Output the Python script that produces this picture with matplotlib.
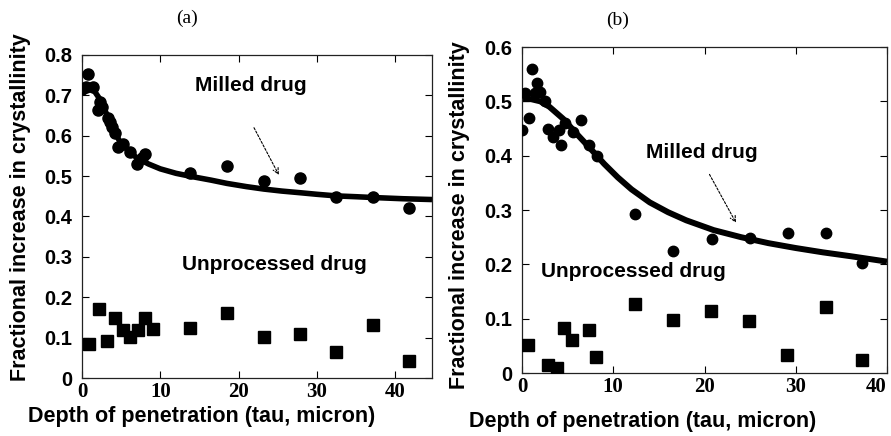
import matplotlib
matplotlib.use("Agg")
import matplotlib.pyplot as plt

# ---- Panel (a) data ----
a_milled_tau = [0.0, 0.8, 0.5, 1.4, 2.1, 2.3, 2.5, 3.3, 3.6, 3.8, 4.2, 4.6, 5.3, 6.1, 7.0, 7.6, 8.0,
                13.8, 18.5, 23.2, 27.8, 32.5, 37.2, 41.8]
a_milled_val = [0.717, 0.754, 0.72, 0.72, 0.663, 0.684, 0.672, 0.645, 0.634, 0.622, 0.606, 0.573, 0.58,
                0.56, 0.531, 0.545, 0.556, 0.507, 0.525, 0.488, 0.495, 0.448, 0.448, 0.42]
a_unproc_tau = [0.9, 2.2, 3.2, 4.2, 5.3, 6.1, 7.1, 8.0, 9.1, 13.8, 18.5, 23.2, 27.8, 32.5, 37.2, 41.8]
a_unproc_val = [0.083, 0.171, 0.092, 0.148, 0.119, 0.102, 0.119, 0.148, 0.121, 0.124, 0.16, 0.102,
                0.11, 0.065, 0.131, 0.042]
a_fit_tau = [0, 1.4, 2.3, 3.0, 3.6, 4.3, 4.9, 6.0, 7.0, 8.5, 10.0, 12.0, 14.0, 16.5, 18.5, 21, 23.2,
             25.5, 27.8, 30, 32.5, 35, 37.2, 41, 44.7]
a_fit_val = [0.718, 0.716, 0.69, 0.66, 0.635, 0.605, 0.583, 0.562, 0.545, 0.53, 0.518, 0.507, 0.499,
             0.49, 0.482, 0.474, 0.468, 0.463, 0.459, 0.455, 0.451, 0.449, 0.447, 0.444, 0.442]

# ---- Panel (b) data ----
b_milled_tau = [0.0, 0.3, 0.8, 1.06, 1.4, 1.6, 2.0, 2.5, 2.9, 3.4, 4.0, 4.3, 4.7, 5.6, 6.5, 7.3, 8.2,
                12.4, 16.6, 20.8, 25.0, 29.1, 33.3, 37.3]
b_milled_val = [0.448, 0.516, 0.47, 0.559, 0.515, 0.533, 0.518, 0.5, 0.449, 0.435, 0.448, 0.42, 0.461,
                0.443, 0.466, 0.42, 0.4, 0.293, 0.225, 0.246, 0.248, 0.257, 0.257, 0.203]
b_unproc_tau = [0.7, 2.9, 3.8, 4.6, 5.5, 7.3, 8.1, 12.4, 16.5, 20.7, 24.9, 29.0, 33.3, 37.3]
b_unproc_val = [0.052, 0.015, 0.01, 0.083, 0.061, 0.079, 0.03, 0.127, 0.098, 0.115, 0.096, 0.033,
                0.121, 0.024]
b_fit_tau = [0, 1, 2, 3, 4.5, 6, 7.5, 9, 10.5, 12, 14, 16, 18, 21, 24, 27, 30, 33, 36, 40]
b_fit_val = [0.504, 0.504, 0.5, 0.49, 0.468, 0.44, 0.413, 0.385, 0.36, 0.338, 0.314, 0.296, 0.281,
             0.263, 0.25, 0.239, 0.23, 0.222, 0.215, 0.205]

a_yticks = [0, 0.1, 0.2, 0.3, 0.4, 0.5, 0.6, 0.7, 0.8]
a_yticklabels = ["0", "0.1", "0.2", "0.3", "0.4", "0.5", "0.6", "0.7", "0.8"]
b_yticks = [0, 0.1, 0.2, 0.3, 0.4, 0.5, 0.6]
b_yticklabels = ["0", "0.1", "0.2", "0.3", "0.4", "0.5", "0.6"]
xticks = [0, 10, 20, 30, 40]
xticklabels = ["0", "10", "20", "30", "40"]

ylabel = "Fractional increase in crystallinity"
xlabel = "Depth of penetration (tau, micron)"

W, H = 891, 436
fig = plt.figure(figsize=(W / 100, H / 100), dpi=100)
fig.patch.set_facecolor("white")

sans = "Liberation Sans"
serif = "Liberation Serif"
LBL = 15.5
ANN = 15


def frac_box(l, r, t, b):
    return [l / W, (H - b) / H, (r - l) / W, (b - t) / H]


def style(ax, xlim, ylim, yticks, yticklabels):
    ax.set_xlim(*xlim)
    ax.set_ylim(*ylim)
    ax.set_xticks(xticks)
    ax.set_xticklabels(xticklabels, fontfamily=serif, fontweight="bold", fontsize=15)
    ax.set_yticks(yticks)
    ax.set_yticklabels(yticklabels, fontfamily=sans, fontweight="bold", fontsize=14.5)
    ax.tick_params(direction="in", top=True, right=True, length=5, width=0.8)
    ax.tick_params(axis="x", pad=3)
    ax.tick_params(axis="y", pad=7)
    for s in ax.spines.values():
        s.set_linewidth(0.9)
        s.set_color("#222222")


# Panel (a)
axa = fig.add_axes(frac_box(82, 432, 55, 378))
axa.plot(a_fit_tau, a_fit_val, color="black", lw=4.0, solid_capstyle="butt", zorder=2)
axa.plot(a_milled_tau, a_milled_val, "o", color="black", ms=8, zorder=3)
axa.plot(a_unproc_tau, a_unproc_val, "s", color="black", ms=8, zorder=3)
style(axa, (0, 44.7), (0, 0.8), a_yticks, a_yticklabels)
axa.text(21.5, 0.725, "Milled drug", ha="center", va="center", fontfamily=sans,
         fontweight="bold", fontsize=ANN)
axa.annotate("", xy=(25.3, 0.497), xytext=(21.8, 0.626),
             arrowprops=dict(arrowstyle="->", lw=0.8, ls=(0, (2, 1.5)), color="black"))
axa.text(24.6, 0.28, "Unprocessed drug", ha="center", va="center", fontfamily=sans,
         fontweight="bold", fontsize=ANN)

# Panel (b)
axb = fig.add_axes(frac_box(522, 887, 47, 373))
axb.plot(b_fit_tau, b_fit_val, color="black", lw=4.3, solid_capstyle="butt", zorder=2)
axb.plot(b_milled_tau, b_milled_val, "o", color="black", ms=7.5, zorder=3)
axb.plot(b_unproc_tau, b_unproc_val, "s", color="black", ms=8, zorder=3)
style(axb, (0, 40), (0, 0.6), b_yticks, b_yticklabels)
axb.get_xticklabels()[-1].set_horizontalalignment("right")
axb.text(19.7, 0.405, "Milled drug", ha="center", va="center", fontfamily=sans,
         fontweight="bold", fontsize=ANN)
axb.annotate("", xy=(23.6, 0.272), xytext=(20.4, 0.37),
             arrowprops=dict(arrowstyle="->", lw=0.8, ls=(0, (2, 1.5)), color="black"))
axb.text(12.2, 0.186, "Unprocessed drug", ha="center", va="center", fontfamily=sans,
         fontweight="bold", fontsize=ANN)

# Titles
fig.text(187 / W, 1 - 18 / H, "(a)", ha="center", va="center", fontfamily=serif, fontsize=14)
fig.text(618 / W, 1 - 20 / H, "(b)", ha="center", va="center", fontfamily=serif, fontsize=14)

# Axis labels
fig.text(21 / W, 1 - 207 / H, ylabel, rotation=90, ha="center", va="center",
         fontfamily=sans, fontweight="bold", fontsize=LBL)
fig.text(459 / W, 1 - 215 / H, ylabel, rotation=90, ha="center", va="center",
         fontfamily=sans, fontweight="bold", fontsize=LBL)
fig.text(202 / W, 1 - 416 / H, xlabel, ha="center", va="center",
         fontfamily=sans, fontweight="bold", fontsize=LBL)
fig.text(643 / W, 1 - 421 / H, xlabel, ha="center", va="center",
         fontfamily=sans, fontweight="bold", fontsize=LBL)

fig.savefig("out.png", dpi=100, facecolor="white")
